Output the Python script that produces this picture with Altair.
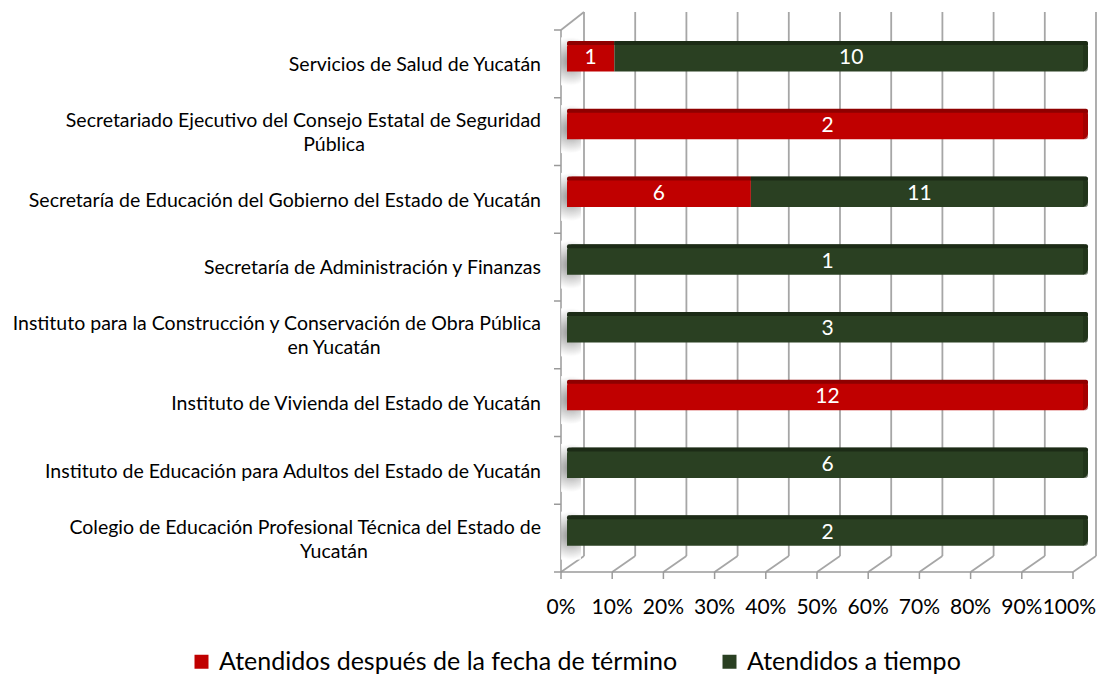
import altair as alt
import pandas as pd

FONT = "Lato"

categories = [
    "Servicios de Salud de Yucatán",
    "Secretariado Ejecutivo del Consejo Estatal de Seguridad Pública",
    "Secretaría de Educación del Gobierno del Estado de Yucatán",
    "Secretaría de Administración y Finanzas",
    "Instituto para la Construcción y Conservación de Obra Pública en Yucatán",
    "Instituto de Vivienda del Estado de Yucatán",
    "Instituto de Educación para Adultos del Estado de Yucatán",
    "Colegio de Educación Profesional Técnica del Estado de Yucatán",
]
label_line1 = [
    "Servicios de Salud de Yucatán",
    "Secretariado Ejecutivo del Consejo Estatal de Seguridad",
    "Secretaría de Educación del Gobierno del Estado de Yucatán",
    "Secretaría de Administración y Finanzas",
    "Instituto para la Construcción y Conservación de Obra Pública",
    "Instituto de Vivienda del Estado de Yucatán",
    "Instituto de Educación para Adultos del Estado de Yucatán",
    "Colegio de Educación Profesional Técnica del Estado de",
]
label_line2 = ["", "Pública", "", "", "en Yucatán", "", "", "Yucatán"]

late = [1, 2, 6, 0, 0, 12, 0, 0]
on_time = [10, 0, 11, 1, 3, 0, 6, 2]

series = ["Atendidos después de la fecha de término", "Atendidos a tiempo"]
colors = ["#C00000", "#2A4022"]
dark_colors = ["#8E0000", "#1C2B16"]

tick_values = [0, 10, 20, 30, 40, 50, 60, 70, 80, 90, 100]
tick_labels = ["0%", "10%", "20%", "30%", "40%", "50%", "60%", "70%", "80%", "90%", "100%"]

# ---------------- data tables ----------------
rows = []
for i, c in enumerate(categories):
    for j, vals in enumerate([late, on_time]):
        if vals[i] > 0:
            rows.append({"cat": c, "idx": i, "serie": series[j], "order": j,
                         "value": vals[i], "dark": dark_colors[j]})
bar_df = pd.DataFrame(rows)

lab_df = pd.DataFrame({"cat": categories, "idx": list(range(len(categories))),
                       "l1": label_line1, "l2": label_line2})
tick_df = pd.DataFrame({"v": tick_values, "lab": tick_labels})
band_df = pd.DataFrame({"k": list(range(len(categories) + 1))})
edge_df = pd.DataFrame({"a": [0], "b": [100], "top": [0], "bot": [len(categories)]})
N = str(len(categories))

GRID = "#A6A6A6"
AX = "#9A9A9A"

xf = alt.Scale(domain=[0, 100], range=[5, 517])          # front face
yf = alt.Scale(domain=[0, len(categories)], range=[18, 560])
xb = alt.Scale(domain=[0, 100], range=[11, 532])          # bars
yb = alt.Scale(domain=categories, range=[10.5, 552.5], paddingInner=0.557, paddingOuter=0.2785)

# back-wall gridlines
grid = alt.Chart(tick_df).mark_rule(color=GRID, strokeWidth=1.8, xOffset=23, yOffset=-18, y2Offset=-16).encode(
    x=alt.X("v:Q", scale=xf, axis=None),
    y=alt.Y("top:Q", scale=yf, axis=None),
    y2="bot:Q",
).transform_calculate(top="0", bot=N)

# floor diagonals
floor = alt.Chart(tick_df).mark_rule(color=GRID, strokeWidth=1.8, x2Offset=23, y2Offset=-16).encode(
    x=alt.X("v:Q", scale=xf, axis=None),
    x2="v:Q",
    y=alt.Y("bot:Q", scale=yf, axis=None),
    y2="bot:Q",
).transform_calculate(bot=N)

# bottom ticks
bticks = alt.Chart(tick_df).mark_rule(color=AX, strokeWidth=1.5, y2Offset=7).encode(
    x=alt.X("v:Q", scale=xf, axis=None),
    y=alt.Y("bot:Q", scale=yf, axis=None),
    y2="bot:Q",
).transform_calculate(bot=N)

# front bottom axis line
baxis = alt.Chart(edge_df).mark_rule(color=AX, strokeWidth=1.5).encode(
    x=alt.X("a:Q", scale=xf, axis=None), x2="b:Q",
    y=alt.Y("bot:Q", scale=yf, axis=None),
)

# left front axis line
laxis = alt.Chart(edge_df).mark_rule(color=AX, strokeWidth=1.5).encode(
    x=alt.X("a:Q", scale=xf, axis=None),
    y=alt.Y("top:Q", scale=yf, axis=None), y2="bot:Q",
)

# left wall top diagonal
ltop = alt.Chart(edge_df).mark_rule(color=GRID, strokeWidth=1.8, x2Offset=23, y2Offset=-18).encode(
    x=alt.X("a:Q", scale=xf, axis=None), x2="a:Q",
    y=alt.Y("top:Q", scale=yf, axis=None), y2="top:Q",
)

# left ticks
lticks = alt.Chart(band_df).mark_rule(color=AX, strokeWidth=1.5, xOffset=-7).encode(
    x=alt.X("z:Q", scale=xf, axis=None), x2="z:Q",
    y=alt.Y("k:Q", scale=yf, axis=None),
).transform_calculate(z="0")

# x tick labels (last one kept inside the drawing)
xlabels = alt.Chart(tick_df).transform_filter("datum.v < 100").mark_text(
    font=FONT, fontSize=21, color="#000000", dy=36, baseline="middle").encode(
    x=alt.X("v:Q", scale=xf, axis=None),
    y=alt.Y("bot:Q", scale=yf, axis=None),
    text="lab:N",
).transform_calculate(bot=N)
xlabel_last = alt.Chart(tick_df).transform_filter("datum.v == 100").mark_text(
    font=FONT, fontSize=21, color="#000000", dy=36, dx=23, align="right", baseline="middle").encode(
    x=alt.X("v:Q", scale=xf, axis=None),
    y=alt.Y("bot:Q", scale=yf, axis=None),
    text="lab:N",
).transform_calculate(bot=N)

# category labels
cl1 = alt.Chart(lab_df).mark_text(font=FONT, fontSize=19.5, color="#000000", align="right", baseline="middle", dx=-20).encode(
    x=alt.X("z:Q", scale=xf, axis=None),
    y=alt.Y("yp:Q", scale=yf, axis=None),
    text="l1:N",
).transform_calculate(z="0", yp="datum.idx + 0.5 - (datum.l2 != '' ? 0.155 : -0.02)")

cl2 = alt.Chart(lab_df).transform_filter("datum.l2 != ''").mark_text(
    font=FONT, fontSize=19.5, color="#000000", align="center", baseline="middle", dx=-227).encode(
    x=alt.X("z:Q", scale=xf, axis=None),
    y=alt.Y("yp:Q", scale=yf, axis=None),
    text="l2:N",
).transform_calculate(z="0", yp="datum.idx + 0.5 + 0.2")

# stacked bars
stacked = alt.Chart(bar_df).transform_stack(
    stack="value", groupby=["cat"], as_=["v0", "v1"], offset="normalize",
    sort=[alt.SortField("order", order="ascending")],
).transform_calculate(
    p0="datum.v0*100", p1="datum.v1*100", pm="(datum.v0+datum.v1)*50",
    first="datum.v0 < 1e-9 ? 1 : 0", last="datum.v1 > 0.999999 ? 1 : 0",
)

# shadow of each bar on the left side wall
shadow = alt.Chart(lab_df).mark_bar(
    height=48, yOffset=5, xOffset=-6, x2Offset=14, opacity=0.9,
    fill={"gradient": "radial", "stops": [{"offset": 0, "color": "#808080"},
                                          {"offset": 0.6, "color": "#D0D0D0"},
                                          {"offset": 1, "color": "#FFFFFF"}]},
).encode(
    x=alt.X("z:Q", scale=xb, axis=None), x2="z:Q",
    y=alt.Y("cat:N", scale=yb, axis=None),
).transform_calculate(z="0")

legend = alt.Legend(title=None, orient="none", legendX=-367, legendY=637,
                    direction="horizontal", symbolType="square", symbolSize=196,
                    symbolStrokeWidth=0, labelFont=FONT, labelFontSize=25,
                    labelColor="#000000", labelOffset=5, columnPadding=39,
                    labelLimit=800)
color_enc = alt.Color("serie:N", scale=alt.Scale(domain=series, range=colors), legend=legend)

R = 6
variants = [
    ("datum.first == 1 && datum.last == 1", dict(cornerRadiusTopLeft=R, cornerRadiusTopRight=R, cornerRadiusBottomRight=R)),
    ("datum.first == 1 && datum.last == 0", dict(cornerRadiusTopLeft=R)),
    ("datum.first == 0 && datum.last == 1", dict(cornerRadiusTopRight=R, cornerRadiusBottomRight=R)),
    ("datum.first == 0 && datum.last == 0", dict()),
]

bar_layers = []
for cond, radii in variants:
    bar_layers.append(stacked.transform_filter(cond).mark_bar(**radii).encode(
        x=alt.X("p0:Q", scale=xb, axis=None), x2="p1:Q",
        y=alt.Y("cat:N", scale=yb, axis=None),
        color=color_enc,
    ))
    # darker top face strip
    strip_r = {k: 3 for k in radii if "Top" in k}
    bar_layers.append(stacked.transform_filter(cond).mark_bar(height=4, yOffset=-13.5, **strip_r).encode(
        x=alt.X("p0:Q", scale=xb, axis=None), x2="p1:Q",
        y=alt.Y("cat:N", scale=yb, axis=None),
        fill=alt.Fill("dark:N", scale=None),
    ))

# darker right end cap
caps = stacked.transform_filter("datum.last == 1").mark_bar(
    xOffset=-5, cornerRadiusTopRight=R, cornerRadiusBottomRight=R, opacity=0.55).encode(
    x=alt.X("p1:Q", scale=xb, axis=None), x2="p1:Q",
    y=alt.Y("cat:N", scale=yb, axis=None),
    fill=alt.Fill("dark:N", scale=None),
)

vals = stacked.mark_text(font=FONT, fontSize=21, color="white", baseline="middle", dy=2).encode(
    x=alt.X("pm:Q", scale=xb, axis=None),
    y=alt.Y("cat:N", scale=yb, axis=None),
    text="value:Q",
)

chart = alt.layer(
    grid, floor, ltop, laxis, lticks, baxis, bticks, xlabels, xlabel_last, cl1, cl2, shadow,
    *bar_layers, caps, vals
).resolve_scale(x="independent", y="independent").properties(
    width=541, height=560,
    autosize=alt.AutoSizeParams(type="none"),
    padding={"left": 548, "top": 4, "right": 0, "bottom": 102},
).configure_view(stroke=None)

chart.save("out.html", embed_options={"renderer": "svg", "actions": False})
